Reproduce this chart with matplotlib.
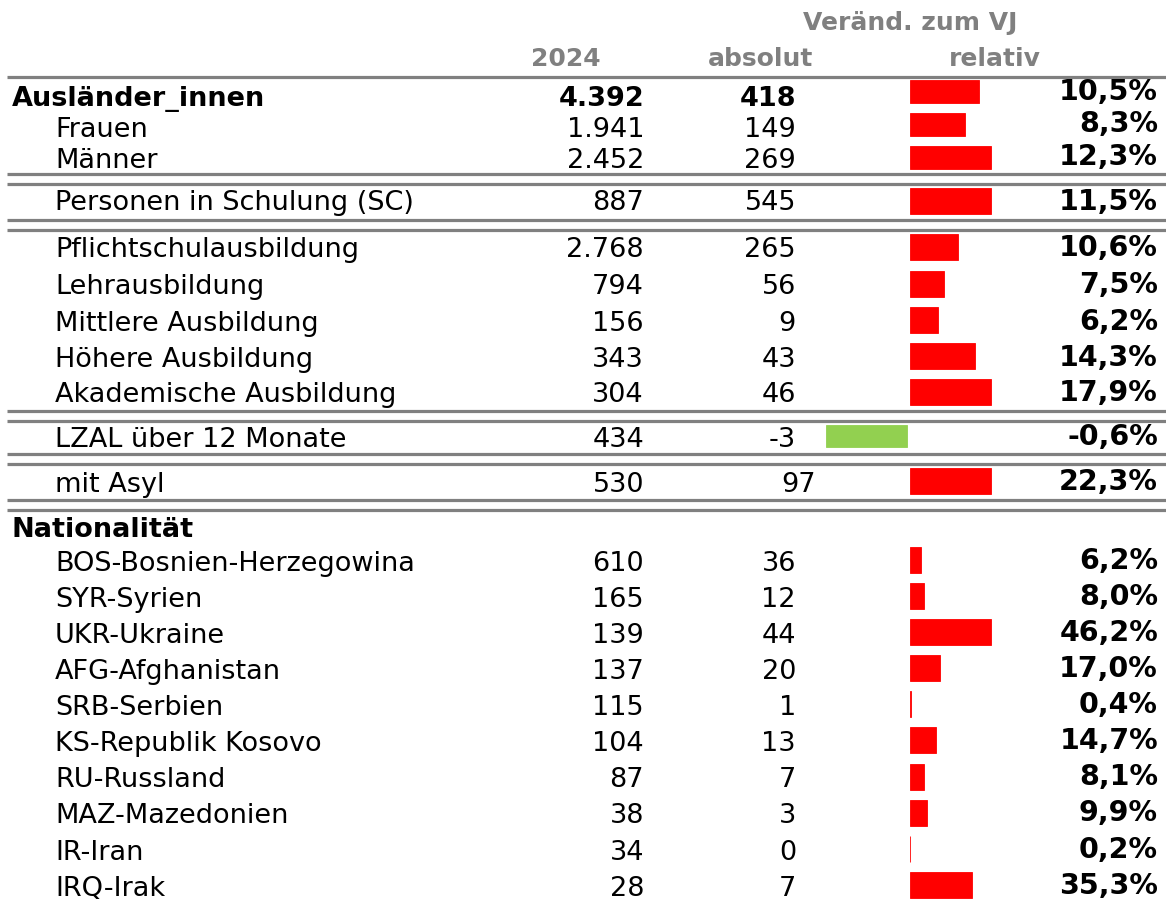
import matplotlib
matplotlib.use("Agg")
import matplotlib.pyplot as plt

# ---------------- data ----------------
labels = ["Ausländer_innen", "Frauen", "Männer", "Personen in Schulung (SC)",
          "Pflichtschulausbildung", "Lehrausbildung", "Mittlere Ausbildung",
          "Höhere Ausbildung", "Akademische Ausbildung", "LZAL über 12 Monate",
          "mit Asyl", "Nationalität",
          "BOS-Bosnien-Herzegowina", "SYR-Syrien", "UKR-Ukraine", "AFG-Afghanistan",
          "SRB-Serbien", "KS-Republik Kosovo", "RU-Russland", "MAZ-Mazedonien",
          "IR-Iran", "IRQ-Irak"]
values_2024 = [4392, 1941, 2452, 887, 2768, 794, 156, 343, 304, 434, 530, None,
               610, 165, 139, 137, 115, 104, 87, 38, 34, 28]
absolut = [418, 149, 269, 545, 265, 56, 9, 43, 46, -3, 97, None,
           36, 12, 44, 20, 1, 13, 7, 3, 0, 7]
relativ = [10.5, 8.3, 12.3, 11.5, 10.6, 7.5, 6.2, 14.3, 17.9, -0.6, 22.3, None,
           6.2, 8.0, 46.2, 17.0, 0.4, 14.7, 8.1, 9.9, 0.2, 35.3]
group = [0, 0, 0, 1, 2, 2, 2, 2, 2, 3, 4, None, 5, 5, 5, 5, 5, 5, 5, 5, 5, 5]
header_year = "2024"
header_change = "Veränd. zum VJ"
header_abs = "absolut"
header_rel = "relativ"

# ---------------- layout ----------------
bold_rows = {0, 11}
text_y = [106, 137, 168, 210, 257, 294, 331, 367, 402, 447, 492, 537,
          571, 607, 643, 679, 715, 751, 787, 823, 860, 896]
pct_y = [100, 132, 165, 210, 256, 293, 330, 366, 401, 445, 490, None,
         569, 605, 641, 677, 713, 749, 785, 821, 858, 894]
bar_y = [91.5, 124.5, 157.5, 201, 247, 284, 320, 356, 392, 436, 480.5, None,
         560, 596, 632, 668, 704, 740, 777, 813, 849, 885]
bar_h = [23, 23, 23, 26, 26, 26, 26, 26, 26, 22, 26, None] + [26] * 10
abs_x = [796] * 22
abs_x[10] = 816
BAR_MAX = 81
POS0, NEG0 = 910, 907
FS = 19.5
PFS = 20.5
GRAY = "#808080"
RED = "#FF0000"
GREEN = "#92D050"

def fmt_int(v):
    return f"{v:,}".replace(",", ".")

def fmt_pct(v):
    return f"{v:.1f}".replace(".", ",") + "%"

plt.rcParams["font.family"] = ["DejaVu Sans"]
fig = plt.figure(figsize=(11.66, 9.01), dpi=100)
ax = fig.add_axes([0, 0, 1, 1])
ax.set_xlim(0, 1166)
ax.set_ylim(901, 0)
ax.axis("off")

# headers
ax.text(910, 30, header_change, ha="center", va="baseline", fontsize=18,
        fontweight="bold", color=GRAY)
ax.text(566, 66, header_year, ha="center", va="baseline", fontsize=18,
        fontweight="bold", color=GRAY)
ax.text(761, 66, header_abs, ha="center", va="baseline", fontsize=18,
        fontweight="bold", color=GRAY)
ax.text(995, 66, header_rel, ha="center", va="baseline", fontsize=18,
        fontweight="bold", color=GRAY)

# separator lines
ax.hlines([77], 7, 1166, color=GRAY, lw=2.3)
for y in [174, 184, 220, 230, 411, 421, 454, 464, 500, 510]:
    ax.hlines(y, 7, 1166, color=GRAY, lw=2.3)

# group maxima for bar scaling
gmax = {}
for g, r in zip(group, relativ):
    if g is not None:
        gmax[g] = max(gmax.get(g, 0), abs(r))

for i, lab in enumerate(labels):
    bold = i in bold_rows
    x0 = 12 if bold else 55
    ax.text(x0, text_y[i], lab, ha="left", va="baseline", fontsize=FS,
            fontweight="bold" if bold else "normal", color="black")
    if values_2024[i] is not None:
        w = "bold" if i == 0 else "normal"
        ax.text(644, text_y[i], fmt_int(values_2024[i]), ha="right", va="baseline",
                fontsize=FS, fontweight=w)
        ax.text(abs_x[i], text_y[i], fmt_int(absolut[i]), ha="right", va="baseline",
                fontsize=FS, fontweight=w)
        r = relativ[i]
        ax.text(1158, pct_y[i], fmt_pct(r), ha="right", va="baseline",
                fontsize=PFS, fontweight="bold")
        width = r / gmax[group[i]] * BAR_MAX
        if r >= 0:
            ax.barh(bar_y[i], width, left=POS0, height=bar_h[i], color=RED,
                    edgecolor=RED, lw=0.6)
        else:
            ax.barh(bar_y[i], width, left=NEG0, height=bar_h[i], color=GREEN,
                    edgecolor=GREEN, lw=0.6)

fig.savefig("out.png", dpi=100)
